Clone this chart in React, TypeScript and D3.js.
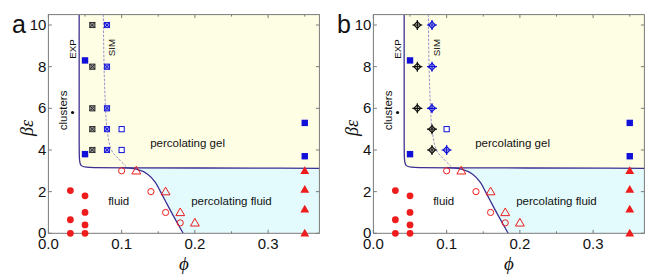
import React from 'react';
import * as d3 from 'd3';

type Pt = [number, number];

// phi, beta*epsilon
const fluidExp: Pt[] = [[0.03, 2.05], [0.03, 0.65], [0.03, 0], [0.05, 1.8], [0.05, 1.0], [0.05, 0.4], [0.05, 0]];
const fluidSim: Pt[] = [[0.1, 3.0], [0.14, 2.0], [0.16, 1.0], [0.18, 0.5]];
const percFluidSim: Pt[] = [[0.12, 3.0], [0.16, 2.0], [0.18, 1.0], [0.2, 0.5]];
const percFluidExp: Pt[] = [[0.35, 3.0], [0.35, 2.1], [0.35, 1.15], [0.35, 0]];
const gelExp: Pt[] = [[0.05, 8.3], [0.05, 3.8], [0.35, 5.3], [0.35, 3.7]];
const clusterDot: Pt[] = [[0.033, 5.8]];

// panel a: crossed boxes
const boxBlackA: Pt[] = [[0.06, 10], [0.06, 8], [0.06, 6], [0.06, 5], [0.06, 4]];
const boxBlueA: Pt[] = [[0.08, 10], [0.08, 8], [0.08, 6], [0.08, 5], [0.08, 4]];
const openSquareA: Pt[] = [[0.1, 5.0], [0.1, 4.0]];

// panel b: diamond crosses
const diaBlackB: Pt[] = [[0.06, 10], [0.06, 8], [0.06, 6], [0.08, 5], [0.08, 4]];
const diaBlueB: Pt[] = [[0.08, 10], [0.08, 8], [0.08, 6], [0.1, 4]];
const openSquareB: Pt[] = [[0.1, 5.0]];

// boundaries
const gelBoundary: Pt[] = [[0.042, 10.5], [0.042, 3.8], [0.042, 3.15], [0.058, 3.15], [0.37, 3.12]];
const fluidBoundary: Pt[] = [[0.1, 3.15], [0.12, 3.08], [0.135, 2.85], [0.146, 2.45], [0.153, 2.0], [0.162, 1.4], [0.172, 0.75], [0.184, 0]];
const simBoundary: Pt[] = [[0.075, 10.5], [0.076, 8], [0.078, 6], [0.08, 5], [0.086, 4], [0.095, 3.6], [0.106, 3.22]];

const xTicks = [0, 0.1, 0.2, 0.3];
const xMinor = [0.05, 0.15, 0.25, 0.35];
const yTicks = [0, 2, 4, 6, 8, 10];

const RED = '#ee1c1c';
const BLUE = '#1010d8';
const PURPLE = '#3d2f92';
const SANS = '"Liberation Sans", Arial, sans-serif';
const SERIF = '"Liberation Serif", "Times New Roman", serif';

const x = d3.scaleLinear().domain([0, 0.37]).range([48.4, 319.4]);
const y = d3.scaleLinear().domain([0, 10.5]).range([233.3, 14.6]);

const Panel: React.FC<{ dx: number; letter: string; variant: 'a' | 'b' }> = ({ dx, letter, variant }) => {
  const [x0, x1] = x.range();
  const [y0, y1] = y.range();
  const line = d3.line<Pt>().x(d => x(d[0])).y(d => y(d[1]));
  const gelPath = line.curve(d3.curveBasis)(gelBoundary) || '';
  const gelArea = gelPath + `L${x1},${y1}Z`;
  const fluidPath = d3.line<Pt>().x(d => x(d[0])).y(d => y(d[1])).curve(d3.curveCatmullRom)(fluidBoundary) || '';
  const fluidArea = fluidPath + `L${x1},${y0}L${x1},${y(3.12)}Z`;
  const simPath = d3.line<Pt>().x(d => x(d[0])).y(d => y(d[1])).curve(d3.curveCatmullRom)(simBoundary) || '';

  const tri = d3.symbol().type(d3.symbolTriangle).size(34)() || '';
  const clip = `clip-${letter}`;

  const crossBox = (p: Pt, c: string, fill: string, i: number) => {
    const cx = x(p[0]), cy = y(p[1]), s = 2.6;
    return (
      <g key={i} stroke={c} strokeWidth={0.9}>
        <rect x={cx - s} y={cy - s} width={2 * s} height={2 * s} fill={fill} />
        <path d={`M${cx - s},${cy - s}L${cx + s},${cy + s}M${cx + s},${cy - s}L${cx - s},${cy + s}`} />
      </g>
    );
  };
  const diaCross = (p: Pt, c: string, i: number) => {
    const cx = x(p[0]), cy = y(p[1]), s = 3.4, a = 5;
    return (
      <g key={i} stroke={c} strokeWidth={1.2} fill="none">
        <path d={`M${cx},${cy - s}L${cx + s},${cy}L${cx},${cy + s}L${cx - s},${cy}Z`} />
        <path d={`M${cx - a},${cy}L${cx + a},${cy}M${cx},${cy - a}L${cx},${cy + a}`} />
      </g>
    );
  };

  return (
    <g transform={`translate(${dx},0)`}>
      <defs>
        <clipPath id={clip}>
          <rect x={x0} y={y1} width={x1 - x0} height={y0 - y1} />
        </clipPath>
      </defs>
      <g clipPath={`url(#${clip})`}>
        <path d={gelArea} fill="#fefee4" />
        <path d={fluidArea} fill="#e4fbfd" />
        <path d={gelPath} fill="none" stroke={PURPLE} strokeWidth={1.3} />
        <path d={fluidPath} fill="none" stroke={PURPLE} strokeWidth={1.3} />
        <path d={simPath} fill="none" stroke="#7d72c4" strokeWidth={0.8} strokeDasharray="2.5,1.5" />
      </g>

      {/* frame and ticks */}
      <rect x={x0} y={y1} width={x1 - x0} height={y0 - y1} fill="none" stroke="#7a7a7a" strokeWidth={1} />
      {xTicks.map(t => (
        <g key={'xt' + t} stroke="#7a7a7a">
          <line x1={x(t)} x2={x(t)} y1={y0} y2={y0 - 3.5} />
          <line x1={x(t)} x2={x(t)} y1={y1} y2={y1 + 3.5} />
        </g>
      ))}
      {xMinor.map(t => (
        <g key={'xm' + t} stroke="#7a7a7a">
          <line x1={x(t)} x2={x(t)} y1={y0} y2={y0 - 2} />
          <line x1={x(t)} x2={x(t)} y1={y1} y2={y1 + 2} />
        </g>
      ))}
      {yTicks.map(t => (
        <g key={'yt' + t} stroke="#7a7a7a">
          <line x1={x0} x2={x0 + 3.5} y1={y(t)} y2={y(t)} />
          <line x1={x1} x2={x1 - 3.5} y1={y(t)} y2={y(t)} />
        </g>
      ))}
      {xTicks.map(t => (
        <text key={'xl' + t} x={x(t)} y={248.5} textAnchor="middle" fontFamily={SANS} fontSize={15} fill="#111">
          {d3.format('.1f')(t)}
        </text>
      ))}
      {yTicks.map(t => (
        <text key={'yl' + t} x={x0 - 2} y={y(t) + 5} textAnchor="end" fontFamily={SANS} fontSize={15} fill="#111">
          {t}
        </text>
      ))}

      {/* annotations */}
      <text x={x(0.19)} y={y(4.14)} textAnchor="middle" fontFamily={SANS} fontSize={11.5} fill="#111">percolating gel</text>
      <text x={x(0.096)} y={y(1.36)} textAnchor="middle" fontFamily={SANS} fontSize={11.5} fill="#111">fluid</text>
      <text x={x(0.25)} y={y(1.36)} textAnchor="middle" fontFamily={SANS} fontSize={11.5} fill="#111">percolating fluid</text>
      <text transform={`translate(${x(0.032) + 4.3},${y(8.85)}) rotate(-90)`} textAnchor="middle" fontFamily={SANS} fontSize={9.8} fill="#111">EXP</text>
      <text transform={`translate(${x(0.085) + 4.3},${y(8.92)}) rotate(-90)`} textAnchor="middle" fontFamily={SANS} fontSize={9.8} fill="#111">SIM</text>
      <text transform={`translate(${x(0.02) + 4},${y(5.9)}) rotate(-90)`} textAnchor="middle" fontFamily={SANS} fontSize={11.5} fill="#111">clusters</text>

      {/* markers */}
      {clusterDot.map((p, i) => <circle key={i} cx={x(p[0])} cy={y(p[1])} r={1.6} fill="#111" />)}
      {fluidExp.map((p, i) => <circle key={i} cx={x(p[0])} cy={y(p[1])} r={3.4} fill={RED} />)}
      {fluidSim.map((p, i) => <circle key={i} cx={x(p[0])} cy={y(p[1])} r={3.1} fill="none" stroke={RED} strokeWidth={1} />)}
      {percFluidSim.map((p, i) => (
        <path key={i} d={tri} transform={`translate(${x(p[0])},${y(p[1]) + 0.6})`} fill="none" stroke={RED} strokeWidth={1} />
      ))}
      {percFluidExp.map((p, i) => (
        <path key={i} d={tri} transform={`translate(${x(p[0])},${y(p[1]) + 0.6})`} fill={RED} />
      ))}
      {gelExp.map((p, i) => <rect key={i} x={x(p[0]) - 3.2} y={y(p[1]) - 3.2} width={6.4} height={6.4} fill={BLUE} />)}
      {(variant === 'a' ? openSquareA : openSquareB).map((p, i) => (
        <rect key={i} x={x(p[0]) - 2.6} y={y(p[1]) - 2.6} width={5.2} height={5.2} fill="#fff" stroke={BLUE} strokeWidth={1} />
      ))}
      {variant === 'a' && boxBlackA.map((p, i) => crossBox(p, '#222', '#9a9a9a', i))}
      {variant === 'a' && boxBlueA.map((p, i) => crossBox(p, BLUE, '#8c8cea', i))}
      {variant === 'b' && diaBlackB.map((p, i) => diaCross(p, '#111', i))}
      {variant === 'b' && diaBlueB.map((p, i) => diaCross(p, BLUE, i))}

      {/* axis titles and letter */}
      <text x={(x0 + x1) / 2} y={270} textAnchor="middle" fontFamily={SERIF} fontStyle="italic" fontSize={19} fill="#111">ϕ</text>
      <text transform={`translate(${33},${128}) rotate(-90)`} textAnchor="middle" fontFamily={SERIF} fontStyle="italic" fontSize={18} fill="#111">βε</text>
      <text x={12} y={33} fontFamily={SANS} fontSize={25} fill="#111">{letter}</text>
    </g>
  );
};

const App: React.FC = () => (
  <div style={{ position: 'absolute', left: 0, top: 0 }}>
    <svg width={654} height={280} style={{ display: 'block', background: '#fff' }}>
      <Panel dx={0} letter="a" variant="a" />
      <Panel dx={325} letter="b" variant="b" />
    </svg>
  </div>
);

export default App;
